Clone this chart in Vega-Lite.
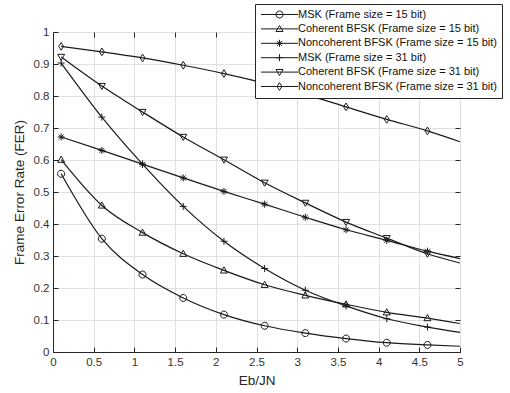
{
  "$schema": "https://vega.github.io/schema/vega-lite/v6.json",
  "width": 407,
  "height": 320,
  "autosize": "none",
  "padding": {"left": 53, "top": 32, "right": 50, "bottom": 41},
  "background": "white",
  "config": {
    "view": {"stroke": "#262626", "strokeWidth": 1},
    "font": "Liberation Sans",
    "axis": {
      "domainColor": "#262626",
      "tickColor": "#262626",
      "labelColor": "#333333",
      "titleColor": "#262626",
      "labelFont": "Liberation Sans",
      "titleFont": "Liberation Sans",
      "titleFontWeight": "normal",
      "labelFontSize": 11.5,
      "titleFontSize": 13.5,
      "gridColor": "#e0e0e0",
      "gridOpacity": 1,
      "tickSize": -5,
      "labelPadding": 9
    }
  },
  "data": {
    "values": [
      {"s": "MSK (Frame size = 15 bit)", "x": 0.1, "y": 0.557},
      {"s": "MSK (Frame size = 15 bit)", "x": 0.6, "y": 0.354},
      {"s": "MSK (Frame size = 15 bit)", "x": 1.1, "y": 0.242},
      {"s": "MSK (Frame size = 15 bit)", "x": 1.6, "y": 0.169},
      {"s": "MSK (Frame size = 15 bit)", "x": 2.1, "y": 0.117},
      {"s": "MSK (Frame size = 15 bit)", "x": 2.6, "y": 0.082},
      {"s": "MSK (Frame size = 15 bit)", "x": 3.1, "y": 0.059},
      {"s": "MSK (Frame size = 15 bit)", "x": 3.6, "y": 0.042},
      {"s": "MSK (Frame size = 15 bit)", "x": 4.1, "y": 0.029},
      {"s": "MSK (Frame size = 15 bit)", "x": 4.6, "y": 0.022},
      {"s": "MSK (Frame size = 15 bit)", "x": 5.0, "y": 0.018},
      {"s": "Coherent BFSK (Frame size = 15 bit)", "x": 0.1, "y": 0.601},
      {"s": "Coherent BFSK (Frame size = 15 bit)", "x": 0.6, "y": 0.458},
      {"s": "Coherent BFSK (Frame size = 15 bit)", "x": 1.1, "y": 0.373},
      {"s": "Coherent BFSK (Frame size = 15 bit)", "x": 1.6, "y": 0.307},
      {"s": "Coherent BFSK (Frame size = 15 bit)", "x": 2.1, "y": 0.255},
      {"s": "Coherent BFSK (Frame size = 15 bit)", "x": 2.6, "y": 0.21},
      {"s": "Coherent BFSK (Frame size = 15 bit)", "x": 3.1, "y": 0.177},
      {"s": "Coherent BFSK (Frame size = 15 bit)", "x": 3.6, "y": 0.149},
      {"s": "Coherent BFSK (Frame size = 15 bit)", "x": 4.1, "y": 0.124},
      {"s": "Coherent BFSK (Frame size = 15 bit)", "x": 4.6, "y": 0.106},
      {"s": "Coherent BFSK (Frame size = 15 bit)", "x": 5.0, "y": 0.089},
      {"s": "Noncoherent BFSK (Frame size = 15 bit)", "x": 0.1, "y": 0.672},
      {"s": "Noncoherent BFSK (Frame size = 15 bit)", "x": 0.6, "y": 0.63},
      {"s": "Noncoherent BFSK (Frame size = 15 bit)", "x": 1.1, "y": 0.587},
      {"s": "Noncoherent BFSK (Frame size = 15 bit)", "x": 1.6, "y": 0.544},
      {"s": "Noncoherent BFSK (Frame size = 15 bit)", "x": 2.1, "y": 0.502},
      {"s": "Noncoherent BFSK (Frame size = 15 bit)", "x": 2.6, "y": 0.462},
      {"s": "Noncoherent BFSK (Frame size = 15 bit)", "x": 3.1, "y": 0.421},
      {"s": "Noncoherent BFSK (Frame size = 15 bit)", "x": 3.6, "y": 0.382},
      {"s": "Noncoherent BFSK (Frame size = 15 bit)", "x": 4.1, "y": 0.349},
      {"s": "Noncoherent BFSK (Frame size = 15 bit)", "x": 4.6, "y": 0.315},
      {"s": "Noncoherent BFSK (Frame size = 15 bit)", "x": 5.0, "y": 0.292},
      {"s": "MSK (Frame size = 31 bit)", "x": 0.1, "y": 0.903},
      {"s": "MSK (Frame size = 31 bit)", "x": 0.6, "y": 0.734},
      {"s": "MSK (Frame size = 31 bit)", "x": 1.1, "y": 0.587},
      {"s": "MSK (Frame size = 31 bit)", "x": 1.6, "y": 0.455},
      {"s": "MSK (Frame size = 31 bit)", "x": 2.1, "y": 0.346},
      {"s": "MSK (Frame size = 31 bit)", "x": 2.6, "y": 0.261},
      {"s": "MSK (Frame size = 31 bit)", "x": 3.1, "y": 0.193},
      {"s": "MSK (Frame size = 31 bit)", "x": 3.6, "y": 0.144},
      {"s": "MSK (Frame size = 31 bit)", "x": 4.1, "y": 0.104},
      {"s": "MSK (Frame size = 31 bit)", "x": 4.6, "y": 0.078},
      {"s": "MSK (Frame size = 31 bit)", "x": 5.0, "y": 0.061},
      {"s": "Coherent BFSK (Frame size = 31 bit)", "x": 0.1, "y": 0.922},
      {"s": "Coherent BFSK (Frame size = 31 bit)", "x": 0.6, "y": 0.831},
      {"s": "Coherent BFSK (Frame size = 31 bit)", "x": 1.1, "y": 0.75},
      {"s": "Coherent BFSK (Frame size = 31 bit)", "x": 1.6, "y": 0.672},
      {"s": "Coherent BFSK (Frame size = 31 bit)", "x": 2.1, "y": 0.601},
      {"s": "Coherent BFSK (Frame size = 31 bit)", "x": 2.6, "y": 0.529},
      {"s": "Coherent BFSK (Frame size = 31 bit)", "x": 3.1, "y": 0.466},
      {"s": "Coherent BFSK (Frame size = 31 bit)", "x": 3.6, "y": 0.406},
      {"s": "Coherent BFSK (Frame size = 31 bit)", "x": 4.1, "y": 0.356},
      {"s": "Coherent BFSK (Frame size = 31 bit)", "x": 4.6, "y": 0.307},
      {"s": "Coherent BFSK (Frame size = 31 bit)", "x": 5.0, "y": 0.278},
      {"s": "Noncoherent BFSK (Frame size = 31 bit)", "x": 0.1, "y": 0.955},
      {"s": "Noncoherent BFSK (Frame size = 31 bit)", "x": 0.6, "y": 0.938},
      {"s": "Noncoherent BFSK (Frame size = 31 bit)", "x": 1.1, "y": 0.919},
      {"s": "Noncoherent BFSK (Frame size = 31 bit)", "x": 1.6, "y": 0.896},
      {"s": "Noncoherent BFSK (Frame size = 31 bit)", "x": 2.1, "y": 0.87},
      {"s": "Noncoherent BFSK (Frame size = 31 bit)", "x": 2.6, "y": 0.84},
      {"s": "Noncoherent BFSK (Frame size = 31 bit)", "x": 3.1, "y": 0.805},
      {"s": "Noncoherent BFSK (Frame size = 31 bit)", "x": 3.6, "y": 0.766},
      {"s": "Noncoherent BFSK (Frame size = 31 bit)", "x": 4.1, "y": 0.727},
      {"s": "Noncoherent BFSK (Frame size = 31 bit)", "x": 4.6, "y": 0.691},
      {"s": "Noncoherent BFSK (Frame size = 31 bit)", "x": 5.0, "y": 0.657}
    ]
  },
  "layer": [
    {
      "mark": {"type": "line", "color": "#1a1a1a", "strokeWidth": 1.2, "interpolate": "monotone", "clip": true},
      "encoding": {
        "x": {
          "field": "x", "type": "quantitative",
          "scale": {"domain": [0, 5], "nice": false},
          "axis": {"orient": "bottom", "values": [0, 0.5, 1, 1.5, 2, 2.5, 3, 3.5, 4, 4.5, 5], "format": "~g", "title": "Eb/JN", "titlePadding": 6, "labelFlush": false}
        },
        "y": {
          "field": "y", "type": "quantitative",
          "scale": {"domain": [0, 1], "nice": false},
          "axis": {"orient": "left", "values": [0, 0.1, 0.2, 0.3, 0.4, 0.5, 0.6, 0.7, 0.8, 0.9, 1], "format": "~g", "title": "Frame Error Rate (FER)", "titlePadding": 7, "labelFlush": false}
        },
        "detail": {"field": "s"}
      }
    },
    {
      "transform": [{"filter": "datum.x < 4.9"}],
      "mark": {"type": "point", "filled": false, "strokeWidth": 1, "size": 49, "opacity": 1},
      "encoding": {
        "x": {"field": "x", "type": "quantitative", "axis": {"orient": "top", "values": [0, 0.5, 1, 1.5, 2, 2.5, 3, 3.5, 4, 4.5, 5], "labels": false, "grid": false, "title": null, "domain": false}},
        "y": {"field": "y", "type": "quantitative", "axis": {"orient": "right", "values": [0, 0.1, 0.2, 0.3, 0.4, 0.5, 0.6, 0.7, 0.8, 0.9, 1], "labels": false, "grid": false, "title": null, "domain": false}},
        "shape": {
          "field": "s", "type": "nominal",
          "scale": {
            "domain": ["Coherent BFSK (Frame size = 15 bit)", "Coherent BFSK (Frame size = 31 bit)", "MSK (Frame size = 15 bit)", "MSK (Frame size = 31 bit)", "Noncoherent BFSK (Frame size = 15 bit)", "Noncoherent BFSK (Frame size = 31 bit)"],
            "range": [
              "M0,-1L1,0.75L-1,0.75Z",
              "M0,1L1,-0.75L-1,-0.75Z",
              "M-1,0A1,1 0 1,0 1,0A1,1 0 1,0 -1,0Z",
              "M-1,0L1,0M0,-1L0,1",
              "M-1,0L1,0M0,-1L0,1M-0.7,-0.7L0.7,0.7M-0.7,0.7L0.7,-0.7",
              "M0,-1.1L0.7,0L0,1.1L-0.7,0Z"
            ]
          },
          "legend": null
        },
        "stroke": {
          "field": "s", "type": "nominal",
          "scale": {
            "domain": ["MSK (Frame size = 15 bit)", "Coherent BFSK (Frame size = 15 bit)", "Noncoherent BFSK (Frame size = 15 bit)", "MSK (Frame size = 31 bit)", "Coherent BFSK (Frame size = 31 bit)", "Noncoherent BFSK (Frame size = 31 bit)"],
            "range": ["#1a1a1a", "#1a1a1a", "#1a1a1a", "#1a1a1a", "#1a1a1a", "#1a1a1a"]
          },
          "legend": {
            "orient": "none",
            "legendX": 202,
            "legendY": -28,
            "title": null,
            "padding": 5,
            "strokeColor": "#262626",
            "fillColor": "white",
            "cornerRadius": 0,
            "symbolSize": 49,
            "symbolType": {"expr": "'M-5.3,0H5.3' + scale('shape', datum.value)"},
            "symbolFillColor": "transparent",
            "symbolStrokeWidth": 1,
            "symbolOffset": 14,
            "labelOffset": 13,
            "labelFont": "Liberation Sans",
            "labelFontSize": 11,
            "labelColor": "#111111",
            "labelLimit": 400,
            "rowPadding": 2.4
          }
        }
      }
    }
  ],
  "resolve": {"axis": {"x": "independent", "y": "independent"}}
}
